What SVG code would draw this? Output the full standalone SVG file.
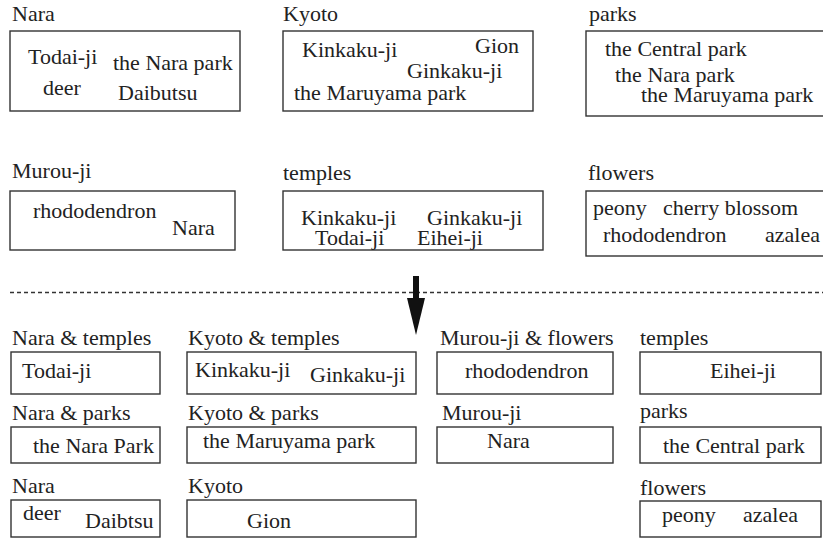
<svg xmlns="http://www.w3.org/2000/svg" width="823" height="543" viewBox="0 0 823 543">
<style>
text{font-family:"Liberation Serif","Times New Roman",serif;font-size:22px;fill:#222}
rect{fill:#fff;stroke:#333;stroke-width:1.4}
.dash{stroke:#333;stroke-width:1.3;stroke-dasharray:4 3;fill:none}
</style>
<rect x="0" y="0" width="823" height="543" style="fill:#fff;stroke:none"/>
<g id="nara"><text x="12" y="21">Nara</text><rect x="10" y="31" width="230" height="80"/>
<text x="28" y="64">Todai-ji</text><text x="113" y="70">the Nara park</text><text x="43" y="95">deer</text><text x="118" y="100">Daibutsu</text></g>
<g id="kyoto"><text x="283" y="21">Kyoto</text><rect x="283" y="31" width="250" height="80"/>
<text x="302" y="57">Kinkaku-ji</text><text x="475" y="53">Gion</text><text x="407" y="78">Ginkaku-ji</text><text x="294" y="100">the Maruyama park</text></g>
<g id="parks"><text x="589" y="21">parks</text><rect x="586" y="31" width="240" height="85"/>
<text x="605" y="56">the Central park</text><text x="615" y="82">the Nara park</text><text x="641" y="102">the Maruyama park</text></g>
<g id="murouji"><text x="12" y="178">Murou-ji</text><rect x="10" y="191" width="225" height="59"/>
<text x="33" y="218">rhododendron</text><text x="172" y="235">Nara</text></g>
<g id="temples"><text x="283" y="180">temples</text><rect x="283" y="191" width="260" height="59"/>
<text x="301" y="225">Kinkaku-ji</text><text x="427" y="225">Ginkaku-ji</text><text x="315" y="245">Todai-ji</text><text x="417" y="245">Eihei-ji</text></g>
<g id="flowers"><text x="588" y="180">flowers</text><rect x="586" y="191" width="240" height="65"/>
<text x="593" y="215">peony</text><text x="663" y="215">cherry blossom</text><text x="603" y="242">rhododendron</text><text x="765" y="242">azalea</text></g>
<g id="connectors">
<line class="dash" x1="10" y1="292.5" x2="823" y2="292.5"/>
<rect x="413" y="276" width="6" height="23" style="fill:#111;stroke:none"/>
<polygon points="407,298 425,298 416,335" style="fill:#111"/>
</g>
<g id="nara-temples"><text x="12" y="345">Nara &amp; temples</text><rect x="11" y="352" width="149" height="42"/><text x="22" y="378">Todai-ji</text></g>
<g id="kyoto-temples"><text x="188" y="345">Kyoto &amp; temples</text><rect x="187" y="352" width="229" height="42"/><text x="195" y="377">Kinkaku-ji</text><text x="310" y="382">Ginkaku-ji</text></g>
<g id="murouji-flowers"><text x="440" y="345">Murou-ji &amp; flowers</text><rect x="437" y="352" width="176" height="42"/><text x="465" y="378">rhododendron</text></g>
<g id="temples2"><text x="640" y="345">temples</text><rect x="640" y="352" width="181" height="42"/><text x="710" y="378">Eihei-ji</text></g>
<g id="nara-parks"><text x="12" y="420">Nara &amp; parks</text><rect x="11" y="427" width="149" height="36"/><text x="33" y="453">the Nara Park</text></g>
<g id="kyoto-parks"><text x="188" y="420">Kyoto &amp; parks</text><rect x="187" y="427" width="229" height="36"/><text x="203" y="448">the Maruyama park</text></g>
<g id="murouji2"><text x="442" y="420">Murou-ji</text><rect x="437" y="427" width="176" height="36"/><text x="487" y="448">Nara</text></g>
<g id="parks2"><text x="640" y="418">parks</text><rect x="640" y="427" width="181" height="36"/><text x="663" y="453">the Central park</text></g>
<g id="nara2"><text x="12" y="493">Nara</text><rect x="11" y="500" width="149" height="37"/><text x="23" y="520">deer</text><text x="85" y="528">Daibtsu</text></g>
<g id="kyoto2"><text x="188" y="493">Kyoto</text><rect x="187" y="500" width="229" height="37"/><text x="247" y="528">Gion</text></g>
<g id="flowers2"><text x="640" y="495">flowers</text><rect x="640" y="501" width="181" height="36"/><text x="662" y="522">peony</text><text x="743" y="522">azalea</text></g>
</svg>
